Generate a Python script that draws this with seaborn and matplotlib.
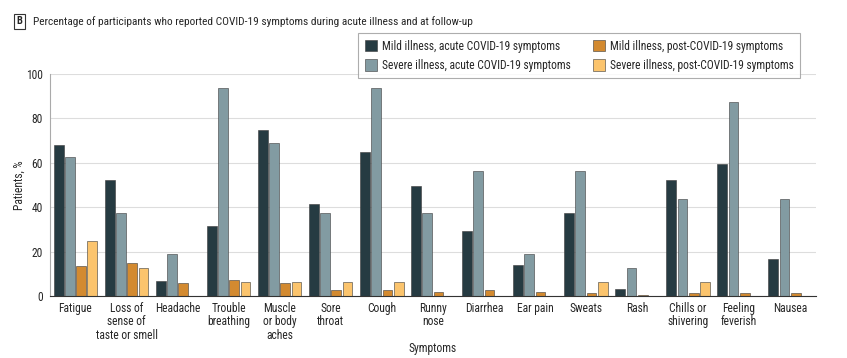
import matplotlib
matplotlib.use("Agg")
import matplotlib.pyplot as plt
import seaborn as sns
import pandas as pd

categories = ["Fatigue", "Loss of\nsense of\ntaste or smell", "Headache", "Trouble\nbreathing",
              "Muscle\nor body\naches", "Sore\nthroat", "Cough", "Runny\nnose", "Diarrhea",
              "Ear pain", "Sweats", "Rash", "Chills or\nshivering", "Feeling\nfeverish", "Nausea"]
series = ["Mild illness, acute COVID-19 symptoms", "Severe illness, acute COVID-19 symptoms",
          "Mild illness, post-COVID-19 symptoms", "Severe illness, post-COVID-19 symptoms"]
mild_acute = [68.0, 52.1, 6.8, 31.4, 74.8, 41.3, 64.7, 49.4, 29.3, 14.0, 37.4, 3.3, 52.1, 59.5, 16.7]
severe_acute = [62.5, 37.5, 18.75, 93.75, 68.75, 37.5, 93.75, 37.5, 56.25, 18.75, 56.25, 12.5, 43.75, 87.5, 43.75]
mild_post = [13.4, 14.7, 6.0, 7.4, 6.0, 2.7, 2.7, 2.0, 2.7, 2.0, 1.4, 0.6, 1.4, 1.4, 1.4]
severe_post = [25.0, 12.5, 0.0, 6.25, 6.25, 6.25, 6.25, 0.0, 0.0, 0.0, 6.25, 0.0, 6.25, 0.0, 0.0]
colors = ["#263b42", "#829ba2", "#d38a30", "#fbc46d"]

rows = []
for s, vals in zip(series, [mild_acute, severe_acute, mild_post, severe_post]):
    for c, v in zip(categories, vals):
        rows.append({"Symptom": c, "Series": s, "Value": v})
df = pd.DataFrame(rows)

sns.set_theme(style="white")
plt.rcParams["font.family"] = ["Roboto Condensed", "Roboto", "DejaVu Sans"]
FS = 8.3

fig = plt.figure(figsize=(8.47, 3.58), dpi=100)
ax = fig.add_axes([0.059, 0.173, 0.904, 0.62])

sns.barplot(data=df, x="Symptom", y="Value", hue="Series", order=categories,
            hue_order=series, palette=colors, saturation=1, width=0.88, gap=0.13,
            edgecolor="#3a3a3a", linewidth=0.4, ax=ax, legend=True)

ax.set_xlim(-0.5, len(categories) - 0.5)
ax.set_ylim(0, 100)
ax.set_yticks([0, 20, 40, 60, 80, 100])
ax.yaxis.grid(True, color="#dddddd", linewidth=0.8)
ax.set_axisbelow(True)
for s in ["top", "right"]:
    ax.spines[s].set_visible(False)
ax.spines["left"].set_color("#aaaaaa")
ax.spines["left"].set_linewidth(0.8)
ax.spines["bottom"].set_color("#333333")
ax.spines["bottom"].set_linewidth(0.8)
ax.tick_params(axis="y", length=3, color="#aaaaaa", labelsize=FS, pad=2)
ax.tick_params(axis="x", length=0, labelsize=FS, pad=4)
for t in ax.get_xticklabels():
    t.set_linespacing(1.05)
ax.set_xlabel("Symptoms", fontsize=FS)
ax.set_ylabel("Patients, %", fontsize=FS)
ax.xaxis.set_label_coords(0.5, -0.205)
ax.yaxis.set_label_coords(-0.032, 0.5)

handles, labels = ax.get_legend_handles_labels()
leg = ax.legend(handles, labels, ncol=2, loc="upper right", bbox_to_anchor=(0.987, 1.21),
                frameon=True, fancybox=False, edgecolor="#999999", fontsize=FS,
                handlelength=1.1, handleheight=1.1, columnspacing=1.9, handletextpad=0.4,
                borderpad=0.55, labelspacing=0.55)
leg.get_frame().set_linewidth(0.8)

fig.text(0.039, 0.94, "Percentage of participants who reported COVID-19 symptoms during acute illness and at follow-up",
         fontsize=8.2, va="center", ha="left")
fig.text(0.0225, 0.94, "B", fontsize=7.5, fontweight="bold", va="center", ha="center",
         bbox=dict(boxstyle="square,pad=0.25", fc="white", ec="#333333", lw=0.8))

fig.savefig("out.png", dpi=100)
